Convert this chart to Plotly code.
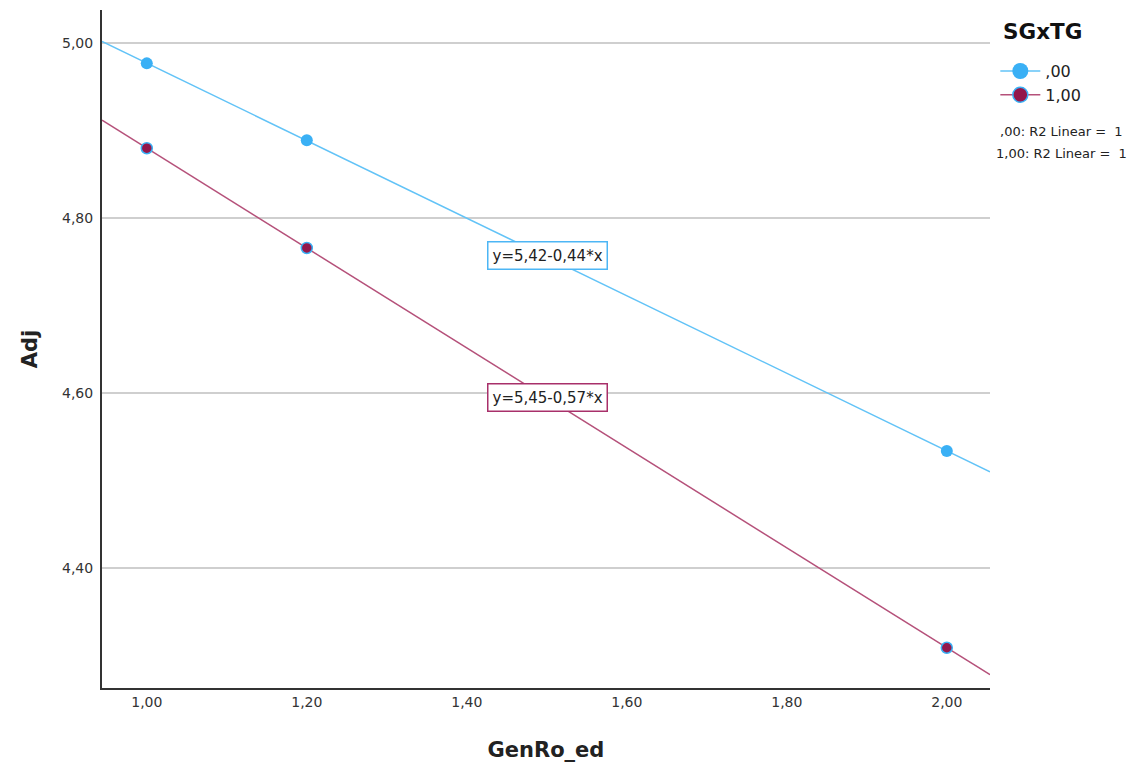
import numpy as np
import plotly.graph_objects as go

# Data
genro_x = [1.00, 1.20, 2.00]
adj_sg0 = [4.977, 4.889, 4.534]
adj_sg1 = [4.880, 4.766, 4.309]
group_names = [",00", "1,00"]
y_ticks = [4.40, 4.60, 4.80, 5.00]
y_tick_labels = ["4,40", "4,60", "4,80", "5,00"]
x_ticks = [1.00, 1.20, 1.40, 1.60, 1.80, 2.00]
x_tick_labels = ["1,00", "1,20", "1,40", "1,60", "1,80", "2,00"]
eq_labels = ["y=5,42-0,44*x", "y=5,45-0,57*x"]
r2_labels = [",00: R2 Linear =  1", "1,00: R2 Linear =  1"]
legend_title = "SGxTG"

x_range = [0.944, 2.054]
y_range = [4.263, 5.038]

FONT = "DejaVu Sans, Verdana, sans-serif"
blue_marker = "#3AB0F5"
blue_line = "#62C3F7"
red_marker = "#93174B"
red_line = "#B5517A"

fig = go.Figure()

xs = np.array(x_range)
for yvals, lc in [(adj_sg0, blue_line), (adj_sg1, red_line)]:
    b, a = np.polyfit(genro_x, yvals, 1)
    fig.add_trace(go.Scatter(x=xs, y=a + b * xs, mode="lines",
                             line=dict(color=lc, width=1.5), showlegend=False,
                             hoverinfo="skip"))

fig.add_trace(go.Scatter(x=genro_x, y=adj_sg0, mode="markers",
                         marker=dict(color=blue_marker, size=12, line=dict(width=0)),
                         showlegend=False))
fig.add_trace(go.Scatter(x=genro_x, y=adj_sg1, mode="markers",
                         marker=dict(color=red_marker, size=11,
                                     line=dict(color=blue_marker, width=1.5)),
                         showlegend=False))

# legend entries
fig.add_trace(go.Scatter(x=[None], y=[None], mode="lines+markers", name=group_names[0],
                         line=dict(color=blue_line, width=1.5),
                         marker=dict(color=blue_marker, size=16)))
fig.add_trace(go.Scatter(x=[None], y=[None], mode="lines+markers", name=group_names[1],
                         line=dict(color=red_line, width=1.5),
                         marker=dict(color=red_marker, size=15,
                                     line=dict(color=blue_marker, width=1.5))))

# equation labels
for txt, yy, col in [(eq_labels[0], 4.757, "#4DB6F5"), (eq_labels[1], 4.595, "#A8306A")]:
    fig.add_annotation(x=1.501, y=yy, xref="x", yref="y", text=txt, showarrow=False,
                       font=dict(family=FONT, size=15, color="#222"),
                       bgcolor="white", bordercolor=col, borderwidth=1.5, borderpad=4)

# legend title
fig.add_annotation(x=1.012, y=0.968, xref="paper", yref="paper",
                   text="<b>" + legend_title + "</b>", showarrow=False,
                   xanchor="left", yanchor="middle",
                   font=dict(family=FONT, size=21.5, color="#111"))

# R2 labels
fig.add_annotation(x=1.081, y=0.835, xref="paper", yref="paper", text=r2_labels[0],
                   showarrow=False, xanchor="center",
                   font=dict(family=FONT, size=13, color="#222"))
fig.add_annotation(x=1.081, y=0.802, xref="paper", yref="paper", text=r2_labels[1],
                   showarrow=False, xanchor="center",
                   font=dict(family=FONT, size=13, color="#222"))

fig.update_layout(
    width=1142, height=767,
    margin=dict(l=94, r=160, t=2, b=87),
    paper_bgcolor="white", plot_bgcolor="white",
    font=dict(family=FONT, size=12, color="#333"),
    legend=dict(x=1.006, y=0.935, xanchor="left", yanchor="top",
                font=dict(family=FONT, size=16, color="#222"), itemwidth=40,
                tracegroupgap=0),
    xaxis=dict(range=x_range, tickvals=x_ticks, ticktext=x_tick_labels,
               showgrid=False, zeroline=False, showline=True, linecolor="#333",
               linewidth=2, ticks="", tickfont=dict(family=FONT, size=14, color="#333"),
               title=dict(text="<b>GenRo_ed</b>",
                          font=dict(family=FONT, size=21, color="#222"),
                          standoff=34)),
    yaxis=dict(range=y_range, tickvals=y_ticks, ticktext=y_tick_labels,
               showgrid=True, gridcolor="#CFCFCF", gridwidth=2, zeroline=False,
               showline=True, linecolor="#333", linewidth=2, ticks="",
               ticklabelstandoff=4,
               tickfont=dict(family=FONT, size=14, color="#333"),
               title=dict(text="<b>Adj</b>",
                          font=dict(family=FONT, size=21, color="#222"),
                          standoff=19)),
)

fig.write_html("out.html")
